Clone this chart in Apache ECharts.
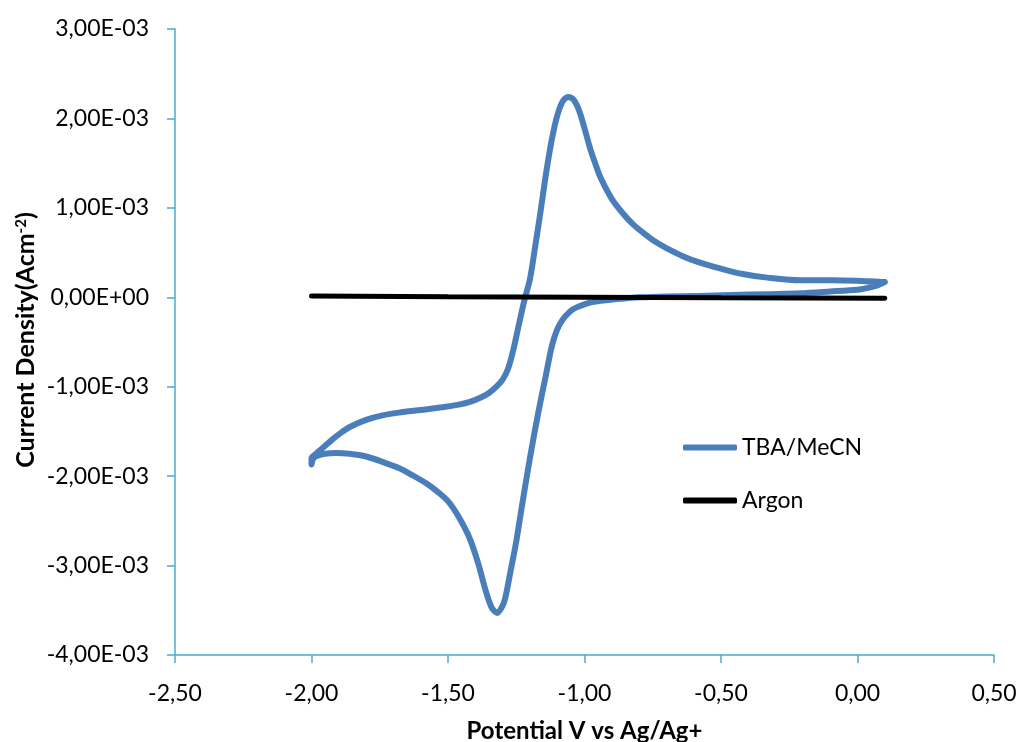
<!DOCTYPE html>
<html>
<head>
<meta charset="utf-8">
<script src="https://cdn.jsdelivr.net/npm/echarts@6/dist/echarts.min.js"></script>
<style>
  html, body { margin: 0; padding: 0; background: #fff; }
  #chart { width: 1022px; height: 742px; }
</style>
</head>
<body>
<div id="chart"></div>
<script>
  // potential (V vs Ag/Ag+) and current density (in 1e-3 A/cm2)
  // TBA/MeCN: sweep from 0.1 V down to -2.0 V ...
  const tbaDownV = [
    0.10, 0.07, 0.03, 0.00, -0.10, -0.21, -0.33, -0.46, -0.58, -0.70, -0.80, -0.88, -0.94, -0.98,
    -1.01, -1.04, -1.06, -1.08, -1.10, -1.12, -1.14, -1.17, -1.20, -1.23, -1.25, -1.27, -1.29,
    -1.30, -1.32, -1.34, -1.36, -1.39, -1.42, -1.46, -1.50, -1.54, -1.58, -1.63, -1.68, -1.74,
    -1.80, -1.86, -1.91, -1.95, -1.99, -2.00
  ];
  const tbaDownJ = [
    0.17, 0.13, 0.10, 0.085, 0.065, 0.045, 0.035, 0.025, 0.015, 0.01, 0.0, -0.02, -0.04, -0.06,
    -0.09, -0.13, -0.18, -0.25, -0.36, -0.55, -0.85, -1.30, -1.80, -2.35, -2.73, -3.05, -3.36,
    -3.45, -3.53, -3.47, -3.30, -2.97, -2.70, -2.46, -2.28, -2.17, -2.08, -1.99, -1.91, -1.84,
    -1.78, -1.75, -1.74, -1.75, -1.79, -1.87
  ];
  // ... and back up to 0.1 V
  const tbaUpV = [
    -2.00, -1.98, -1.95, -1.92, -1.89, -1.86, -1.80, -1.74, -1.68, -1.60, -1.52, -1.46, -1.42,
    -1.38, -1.35, -1.32, -1.30, -1.28, -1.26, -1.24, -1.22, -1.20, -1.18, -1.16, -1.14, -1.12,
    -1.10, -1.08, -1.06, -1.04, -1.02, -1.00, -0.98, -0.96, -0.94, -0.90, -0.86, -0.82, -0.78,
    -0.74, -0.70, -0.64, -0.58, -0.50, -0.42, -0.33, -0.21, -0.09, 0.03, 0.08, 0.10
  ];
  const tbaUpJ = [
    -1.80, -1.74, -1.66, -1.58, -1.51, -1.45, -1.37, -1.32, -1.29, -1.26, -1.23, -1.20, -1.17,
    -1.12, -1.07, -0.99, -0.92, -0.80, -0.58, -0.30, -0.03, 0.20, 0.58, 0.98, 1.40, 1.76,
    2.03, 2.19, 2.24, 2.21, 2.09, 1.89, 1.67, 1.49, 1.33, 1.10, 0.94, 0.81, 0.71,
    0.62, 0.55, 0.46, 0.39, 0.32, 0.26, 0.22, 0.19, 0.19, 0.18, 0.175, 0.17
  ];
  const argonV = [-2.00, -1.50, -1.00, -0.50, 0.10];
  const argonJ = [0.015, 0.005, 0.0, -0.005, -0.01];

  const xTicks = { min: -2.5, max: 0.5, interval: 0.5 };
  const yTicks = { min: -4, max: 3, interval: 1 };

  const axisColor = '#4bacc6';
  const font = 'Lato, "Liberation Sans", sans-serif';

  function zip(xs, ys) {
    return xs.map((x, i) => [x, ys[i]]);
  }

  function sci(v) {
    // 1e-3 units -> "3,00E-03" style
    const a = v / 1000;
    if (Math.abs(a) < 1e-12) return '0,00E+00';
    const parts = a.toExponential(2).split('e');
    const exp = parseInt(parts[1], 10);
    const e = (exp < 0 ? '-' : '+') + String(Math.abs(exp)).padStart(2, '0');
    return parts[0].replace('.', ',') + 'E' + e;
  }

  const chart = echarts.init(document.getElementById('chart'));

  const option = {
    backgroundColor: '#fff',
    animation: false,
    textStyle: { fontFamily: font },
    grid: { left: 175, right: 28, top: 29, bottom: 87, containLabel: false, outerBoundsMode: 'none' },
    legend: {
      orient: 'vertical',
      left: 683,
      top: 436,
      padding: 0,
      itemWidth: 54,
      itemHeight: 6,
      itemGap: 30,
      textStyle: { fontSize: 23, color: '#000', fontFamily: font },
      data: [
        { name: 'TBA/MeCN', icon: 'roundRect' },
        { name: 'Argon', icon: 'roundRect' }
      ]
    },
    xAxis: {
      type: 'value',
      min: xTicks.min,
      max: xTicks.max,
      interval: xTicks.interval,
      name: 'Potential V vs Ag/Ag+',
      nameLocation: 'middle',
      nameGap: 64,
      nameMoveOverlap: false,
      nameTextStyle: { fontSize: 24, fontWeight: 'bold', color: '#000', fontFamily: font },
      axisLine: { onZero: false, lineStyle: { color: axisColor, width: 1.5 } },
      axisTick: { show: true, inside: false, length: 8, lineStyle: { color: axisColor, width: 1.5 } },
      axisLabel: {
        margin: 27,
        fontSize: 23,
        color: '#000',
        fontFamily: font,
        formatter: v => v.toFixed(2).replace('.', ',')
      },
      splitLine: { show: false }
    },
    yAxis: {
      type: 'value',
      min: yTicks.min,
      max: yTicks.max,
      interval: yTicks.interval,
      axisLine: { show: true, onZero: false, lineStyle: { color: axisColor, width: 1.5 } },
      axisTick: { show: true, inside: false, length: 8, lineStyle: { color: axisColor, width: 1.5 } },
      axisLabel: {
        margin: 26,
        fontSize: 23,
        color: '#000',
        fontFamily: font,
        formatter: sci
      },
      splitLine: { show: false }
    },
    graphic: [{
      type: 'text',
      x: 26,
      y: 340,
      rotation: Math.PI / 2,
      style: {
        text: '{t|Current Density(Acm}{s|-2}{t|)}',
        align: 'center',
        verticalAlign: 'middle',
        rich: {
          t: { fontSize: 25, fontWeight: 'bold', fontFamily: font, fill: '#000', color: '#000' },
          s: { fontSize: 15, fontWeight: 'bold', fontFamily: font, fill: '#000', color: '#000', verticalAlign: 'top', padding: [0, 0, 10, 0] }
        }
      }
    }],
    series: [
      {
        name: 'TBA/MeCN',
        type: 'line',
        data: zip(tbaDownV, tbaDownJ).concat(zip(tbaUpV, tbaUpJ)),
        smooth: 0.3,
        symbol: 'none',
        lineStyle: { color: '#4a7ebb', width: 6, cap: 'round', join: 'round' },
        itemStyle: { color: '#4a7ebb' }
      },
      {
        name: 'Argon',
        type: 'line',
        data: zip(argonV, argonJ),
        smooth: true,
        symbol: 'none',
        lineStyle: { color: '#000', width: 5, cap: 'round' },
        itemStyle: { color: '#000' }
      }
    ]
  };

  chart.setOption(option);
</script>
</body>
</html>
